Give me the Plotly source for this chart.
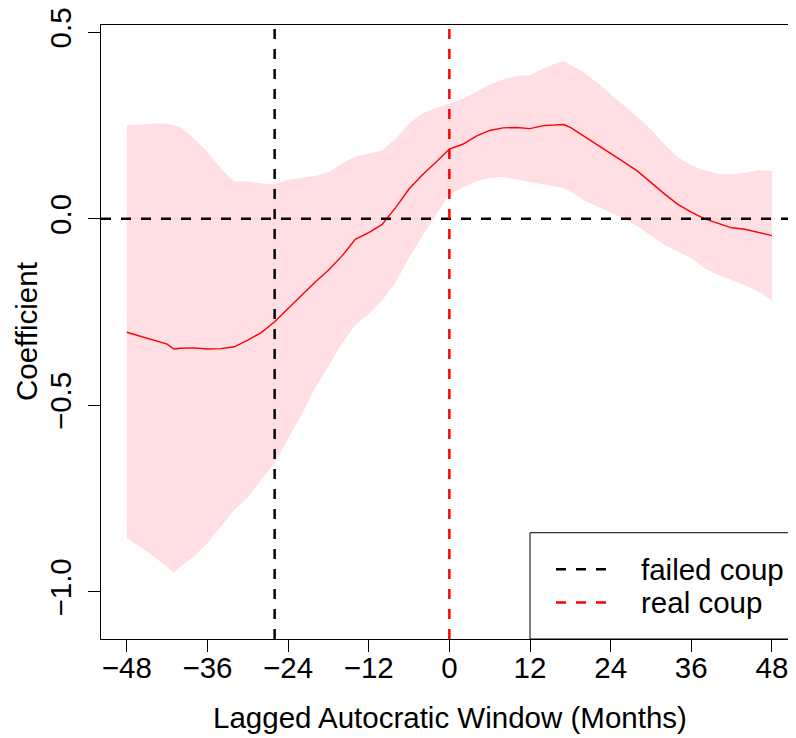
import plotly.graph_objects as go

# ---- data ----
months = [-48, -46, -44, -42, -41, -40, -38, -36, -34, -32, -30, -28, -26, -24, -22, -20,
          -18, -16, -14, -12, -10, -8, -6, -4, -2, 0, 2, 4, 6, 8, 10, 12, 14, 16, 17, 18,
          20, 22, 24, 26, 28, 30, 32, 34, 36, 38, 40, 42, 44, 46, 48]

coef = [-0.304, -0.314, -0.326, -0.336, -0.349, -0.347, -0.346, -0.349, -0.348, -0.343,
        -0.325, -0.305, -0.276, -0.240, -0.205, -0.170, -0.138, -0.100, -0.055, -0.037,
        -0.015, 0.030, 0.080, 0.118, 0.152, 0.187, 0.200, 0.222, 0.237, 0.244, 0.245,
        0.242, 0.250, 0.252, 0.253, 0.245, 0.222, 0.200, 0.175, 0.152, 0.128, 0.097,
        0.067, 0.039, 0.018, 0.000, -0.013, -0.024, -0.028, -0.036, -0.045]

upper = [0.250, 0.254, 0.256, 0.255, 0.250, 0.246, 0.215, 0.180, 0.135, 0.100, 0.100,
         0.095, 0.093, 0.105, 0.110, 0.115, 0.125, 0.148, 0.167, 0.175, 0.183, 0.215,
         0.255, 0.283, 0.295, 0.309, 0.322, 0.340, 0.360, 0.373, 0.383, 0.385, 0.403,
         0.418, 0.423, 0.413, 0.393, 0.365, 0.335, 0.305, 0.273, 0.240, 0.200, 0.165,
         0.143, 0.130, 0.120, 0.119, 0.123, 0.131, 0.128]

lower = [-0.857, -0.879, -0.905, -0.934, -0.949, -0.932, -0.905, -0.870, -0.825, -0.780,
         -0.747, -0.700, -0.654, -0.590, -0.525, -0.455, -0.395, -0.335, -0.285, -0.255,
         -0.218, -0.170, -0.105, -0.045, 0.010, 0.065, 0.084, 0.100, 0.110, 0.112, 0.105,
         0.099, 0.093, 0.086, 0.083, 0.073, 0.050, 0.033, 0.017, 0.000, -0.020, -0.045,
         -0.070, -0.088, -0.105, -0.133, -0.150, -0.164, -0.178, -0.195, -0.219]

failed_coup = -26
real_coup = 0
reference_level = 0.0

x_ticks = [-48, -36, -24, -12, 0, 12, 24, 36, 48]
x_ticktext = ["\u221248", "\u221236", "\u221224", "\u221212", "0", "12", "24", "36", "48"]
y_ticks = [-1.0, -0.5, 0.0, 0.5]
y_ticktext = ["\u22121.0", "\u22120.5", "0.0", "0.5"]

legend_labels = ["failed coup", "real coup"]
legend_colors = ["black", "red"]

# ---- layout geometry (pixels; page has an 8px body margin) ----
OFF = 8
W, H = 796 - OFF, 738 - OFF
L, R, T = 101 - OFF, 0, 15 - OFF
PLOT_BOTTOM = 639 - OFF
B = H - PLOT_BOTTOM
PW, PH = W - L - R, H - T - B
FONT = "Liberation Sans, Arial, Helvetica, sans-serif"
FS = 29.5


def px_x(p):
    """page pixel x -> paper x"""
    return (p - OFF - L) / PW


def px_y(p):
    """page pixel y -> paper y"""
    return (PLOT_BOTTOM - (p - OFF)) / PH


band_color = "rgb(255,222,228)"

fig = go.Figure()
fig.add_trace(go.Scatter(
    x=months + months[::-1], y=upper + lower[::-1], fill="toself",
    fillcolor=band_color, line=dict(width=0), mode="lines", hoverinfo="skip",
    showlegend=False))
fig.add_trace(go.Scatter(
    x=months, y=coef, mode="lines", line=dict(color="red", width=1.4),
    showlegend=False))

dash = "10px,10px"
fig.add_hline(y=reference_level, line=dict(color="black", width=2.5, dash=dash))
fig.add_vline(x=failed_coup, line=dict(color="black", width=2.5, dash=dash))
fig.add_vline(x=real_coup, line=dict(color="red", width=2.5, dash=dash))

# legend box
fig.add_shape(type="rect", xref="paper", yref="paper",
              x0=px_x(530), x1=px_x(810), y0=0, y1=px_y(531),
              line=dict(color="black", width=1), fillcolor="white", layer="above")
for i, (lab, col) in enumerate(zip(legend_labels, legend_colors)):
    yy = 568 + 34 * i
    fig.add_shape(type="line", xref="paper", yref="paper",
                  x0=px_x(556), x1=px_x(608), y0=px_y(yy), y1=px_y(yy),
                  line=dict(color=col, width=2.5, dash="10px,10px"), layer="above")
    fig.add_annotation(xref="paper", yref="paper", x=px_x(639), y=px_y(yy),
                       text=lab, showarrow=False, xanchor="left", yanchor="middle",
                       font=dict(family=FONT, size=FS, color="black"))

# axis titles
fig.add_annotation(xref="paper", yref="paper", x=px_x(449.7), y=0, yshift=-78,
                   text="Lagged Autocratic Window (Months)", showarrow=False,
                   xanchor="center", yanchor="middle",
                   font=dict(family=FONT, size=FS, color="black"))
fig.add_annotation(xref="paper", yref="paper", x=0, xshift=-75, y=0.5,
                   text="Coefficient", showarrow=False, textangle=-90,
                   xanchor="center", yanchor="middle", borderpad=0,
                   font=dict(family=FONT, size=FS, color="black"))

fig.update_layout(
    width=W, height=H,
    margin=dict(l=L, r=R, t=T, b=B, pad=0),
    paper_bgcolor="white", plot_bgcolor="white",
    font=dict(family=FONT, size=FS, color="black"),
    showlegend=False,
    xaxis=dict(range=[-51.84, -51.84 + PW / 6.72], tickvals=x_ticks, ticktext=x_ticktext,
               ticks="outside", ticklen=12, tickwidth=1, tickcolor="black",
               showline=True, linecolor="black", linewidth=1, mirror=True,
               showgrid=False, zeroline=False, tickfont=dict(size=FS),
               ticklabelstandoff=-9, ticklabeloverflow="allow"),
    yaxis=dict(range=[-1.1266, 0.5198], tickvals=y_ticks, ticktext=y_ticktext,
               ticks="outside", ticklen=12, tickwidth=1, tickcolor="black",
               showline=True, linecolor="black", linewidth=1, mirror=False,
               showgrid=False, zeroline=False, tickangle=-90, tickfont=dict(size=FS),
               ticklabelstandoff=5, ticklabeloverflow="allow"),
)

fig.write_html("out.html")
